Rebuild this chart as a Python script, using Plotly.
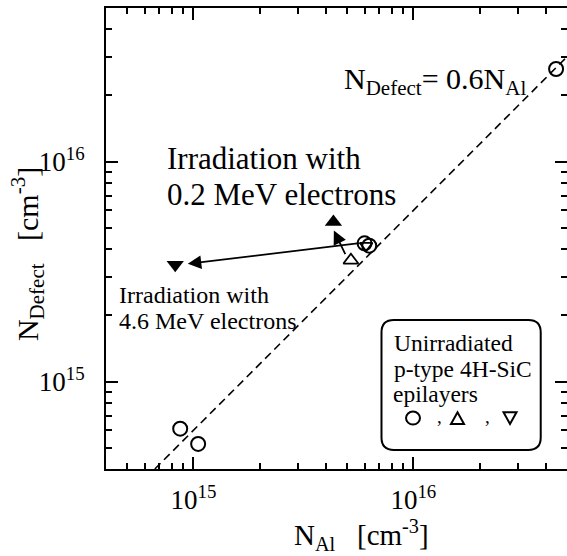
import math
import plotly.graph_objects as go

# ---------------- data ----------------
unirr_circle_x = [8.7e14, 1.05e15, 6.0e15, 6.3e15, 4.46e16]
unirr_circle_y = [6.1e14, 5.2e14, 4.25e15, 4.15e15, 2.64e16]
unirr_up_x = [5.2e15]
unirr_up_y = [3.56e15]
unirr_down_x = [6.1e15]
unirr_down_y = [4.15e15]
irr_02MeV_x = [4.33e15]
irr_02MeV_y = [5.32e15]
irr_46MeV_x = [8.26e14]
irr_46MeV_y = [3.40e15]

fit_slope = 0.6
fit_x = [6.67e14, 5.0e16]
fit_y = [fit_slope * v for v in fit_x]

arrow_tail_x = [5.78e15, 4.94e15]
arrow_tail_y = [4.27e15, 3.74e15]
arrow_head_x = [9.42e14, 4.35e15]
arrow_head_y = [3.43e15, 4.86e15]

axis_min = 4e14
axis_max = 5e16
major_ticks = [1e15, 1e16]
major_labels = ["10<sup>15</sup>", "10<sup>16</sup>"]
minor_ticks = [m * 10 ** e for e in (14, 15, 16) for m in range(2, 10)
               if axis_min < m * 10 ** e < axis_max]

# ---------------- figure ----------------
SERIF = "Liberation Serif, Times New Roman, serif"
rng = [math.log10(axis_min), math.log10(axis_max)]

fig = go.Figure()
fig.add_trace(go.Scatter(x=fit_x, y=fit_y, mode="lines",
                         line=dict(color="black", width=1.6, dash="8px,5px"),
                         showlegend=False, hoverinfo="skip"))
fig.add_trace(go.Scatter(x=unirr_circle_x, y=unirr_circle_y, mode="markers",
                         marker=dict(symbol="circle-open", size=14, color="black",
                                     line=dict(width=2, color="black")),
                         showlegend=False))
fig.add_trace(go.Scatter(x=unirr_up_x, y=unirr_up_y, mode="markers",
                         marker=dict(symbol="triangle-up-open", size=13, color="black",
                                     line=dict(width=1.8, color="black")),
                         showlegend=False))
fig.add_trace(go.Scatter(x=unirr_down_x, y=unirr_down_y, mode="markers",
                         marker=dict(symbol="triangle-down-open", size=11, color="black",
                                     line=dict(width=1.8, color="black")),
                         showlegend=False))
fig.add_trace(go.Scatter(x=irr_02MeV_x, y=irr_02MeV_y, mode="markers",
                         marker=dict(symbol="triangle-up", size=15, color="black"),
                         showlegend=False))
fig.add_trace(go.Scatter(x=irr_46MeV_x, y=irr_46MeV_y, mode="markers",
                         marker=dict(symbol="triangle-down", size=15, color="black"),
                         showlegend=False))
# invisible trace for the mirrored (top/right) axes
fig.add_trace(go.Scatter(x=[axis_min], y=[axis_min], xaxis="x2", yaxis="y2",
                         mode="markers", marker=dict(opacity=0), showlegend=False,
                         hoverinfo="skip"))

common = dict(type="log", range=rng, tickvals=major_ticks, ticks="inside",
              ticklen=12, tickwidth=2, tickcolor="black", showgrid=False,
              zeroline=False,
              minor=dict(tickvals=minor_ticks, ticks="inside", ticklen=6,
                         tickwidth=2, tickcolor="black", showgrid=False))

fig.update_layout(
    width=567, height=556,
    margin=dict(l=106, r=0, t=8, b=87),
    paper_bgcolor="white", plot_bgcolor="white",
    font=dict(family=SERIF, color="black"),
    xaxis=dict(**common, ticktext=major_labels, showline=True, linewidth=2,
               linecolor="black", mirror=False,
               tickfont=dict(family=SERIF, size=27, color="black"),
               ticklabelstandoff=6),
    yaxis=dict(**common, ticktext=major_labels, showline=True, linewidth=2,
               linecolor="black", mirror=False,
               tickfont=dict(family=SERIF, size=27, color="black"),
               ticklabelstandoff=14),
    xaxis2=dict(**common, overlaying="x", side="top", anchor="y",
                showline=True, linewidth=2, linecolor="black",
                showticklabels=False),
    yaxis2=dict(**common, overlaying="y", side="right", anchor="x",
                showline=False, showticklabels=False),
    showlegend=False,
)

# arrows
for tx, ty, hx, hy in zip(arrow_tail_x, arrow_tail_y, arrow_head_x, arrow_head_y):
    fig.add_annotation(x=math.log10(hx), y=math.log10(hy),
                       ax=math.log10(tx), ay=math.log10(ty),
                       xref="x", yref="y", axref="x", ayref="y",
                       text="", showarrow=True, arrowhead=2, arrowsize=1.5,
                       arrowwidth=1.8, arrowcolor="black", standoff=0, startstandoff=0)

def txt(x, y, s, size, xanchor="left", family=SERIF, angle=0, yanchor="middle",
        borderpad=1):
    fig.add_annotation(x=x, y=y, xref="paper", yref="paper", text=s,
                       showarrow=False, xanchor=xanchor, yanchor=yanchor,
                       textangle=angle, borderpad=borderpad,
                       font=dict(family=family, size=size, color="black"))

# text labels
txt(0.128, 0.6746, "Irradiation with", 31)
txt(0.128, 0.5965, "0.2 MeV electrons", 31)
txt(0.0249, 0.378, "Irradiation with", 24)
txt(0.0249, 0.322, "4.6 MeV electrons", 24)
txt(0.5115, 0.8427, "N<sub>Defect</sub>= 0.6N<sub>Al</sub>", 30)

# legend-like box
x0, x1, y0, y1, r = 0.5976, 0.943, 0.0412, 0.3232, 0.027
path = (f"M {x0+r},{y0} L {x1-r},{y0} Q {x1},{y0} {x1},{y0+r} "
        f"L {x1},{y1-r} Q {x1},{y1} {x1-r},{y1} L {x0+r},{y1} "
        f"Q {x0},{y1} {x0},{y1-r} L {x0},{y0+r} Q {x0},{y0} {x0+r},{y0} Z")
fig.add_shape(type="path", path=path, xref="paper", yref="paper",
              line=dict(color="black", width=2))
txt(0.6213, 0.2733, "Unirradiated", 23.5)
txt(0.6213, 0.2169, "p-type 4H-SiC", 23.5)
txt(0.6213, 0.1627, "epilayers", 23.5, borderpad=0)

# legend glyphs (circle, up-triangle, down-triangle) drawn as shapes
fig.add_shape(type="circle", xref="paper", yref="paper",
              x0=0.6508, x1=0.6811, y0=0.0965, y1=0.1247,
              line=dict(color="black", width=2))
fig.add_shape(type="path", xref="paper", yref="paper",
              path="M 0.7484,0.0976 L 0.7766,0.0976 L 0.7625,0.1232 Z",
              line=dict(color="black", width=2))
fig.add_shape(type="path", xref="paper", yref="paper",
              path="M 0.8623,0.1232 L 0.8905,0.1232 L 0.8764,0.0976 Z",
              line=dict(color="black", width=2))
txt(0.7245, 0.0880, ",", 19, xanchor="center", yanchor="bottom", borderpad=0)
txt(0.8286, 0.0880, ",", 19, xanchor="center", yanchor="bottom", borderpad=0)

# axis titles
txt(0.5544, -0.1887, "N<sub>Al</sub>\u00a0\u00a0\u00a0[cm<sup>-3</sup>]", 29,
    xanchor="center", yanchor="bottom", borderpad=0)
txt(-0.169, 0.4664, "N<sub>Defect</sub>\u00a0\u00a0\u00a0[cm<sup>-3</sup>]", 30,
    xanchor="center", angle=-90)

fig.write_html("out.html")
